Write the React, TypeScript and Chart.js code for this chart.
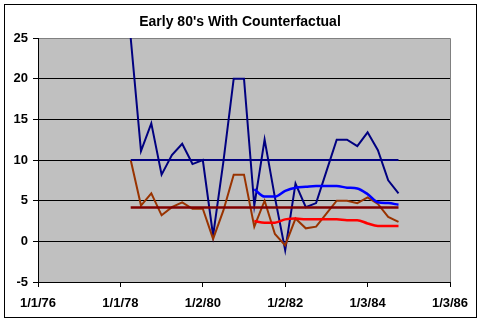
import React, { useEffect, useRef } from "react";
import { Chart, registerables } from "chart.js";

Chart.register(...registerables);

// Quarterly observation dates (m/d/yy)
const dates = [
  "4/1/78", "7/1/78", "10/1/78",
  "1/1/79", "4/1/79", "7/1/79", "10/1/79",
  "1/1/80", "4/1/80", "7/1/80", "10/1/80",
  "1/1/81", "4/1/81", "7/1/81", "10/1/81",
  "1/1/82", "4/1/82", "7/1/82", "10/1/82",
  "1/1/83", "4/1/83", "7/1/83", "10/1/83",
  "1/1/84", "4/1/84", "7/1/84", "10/1/84",
];

const navySeries = [
  25, 11.1, 14.5, 8.2, 10.6, 12.0, 9.5, 10.0, 0.7, 9.8, 20.0, 20.0, 4.4, 12.5,
  5.4, -1.1, 7.1, 4.2, 4.7, 8.6, 12.5, 12.5, 11.7, 13.4, 11.2, 7.5, 5.9,
];
const brownSeries = [
  10.0, 4.4, 5.9, 3.2, 4.2, 4.8, 4.0, 4.0, 0.3, 3.8, 8.2, 8.2, 1.8, 5.0, 0.9,
  -0.5, 2.8, 1.6, 1.8, 3.4, 5.0, 5.0, 4.7, 5.4, 4.6, 3.0, 2.4,
];
// counterfactual series start at 4/1/81
const blueSeries = [6.4, 5.5, 5.5, 6.2, 6.6, 6.7, 6.8, 6.8, 6.8, 6.6, 6.5, 5.8, 4.8, 4.7, 4.5];
const redSeries = [2.5, 2.3, 2.3, 2.7, 2.8, 2.7, 2.7, 2.7, 2.7, 2.6, 2.6, 2.2, 1.9, 1.9, 1.9];
const navyAverage = 10.0;
const brownAverage = 4.15;

const xTickLabels = ["1/1/76", "1/1/78", "1/2/80", "1/2/82", "1/3/84", "1/3/86"];
const yTicks = [-5, 0, 5, 10, 15, 20, 25];

const toYear = (d: string) => {
  const [m, , y] = d.split("/").map(Number);
  return 1900 + y + (m - 1) / 12;
};
const xs = dates.map(toYear);
const cfStart = dates.length - blueSeries.length;

const FONT = "'Liberation Sans', Arial, sans-serif";

export default function App() {
  const ref = useRef<HTMLCanvasElement | null>(null);
  useEffect(() => {
    document.body.style.margin = "0";
    const canvas = ref.current!;
    const framePlugin = {
      id: "frame",
      beforeDraw(chart: any) {
        const { ctx, chartArea: a } = chart;
        ctx.save();
        ctx.fillStyle = "#ffffff";
        ctx.fillRect(0, 0, chart.width, chart.height);
        ctx.strokeStyle = "#000";
        ctx.lineWidth = 1;
        ctx.strokeRect(4.5, 4.5, 472, 313);
        ctx.fillStyle = "#C0C0C0";
        ctx.fillRect(a.left, a.top, a.right - a.left, a.bottom - a.top);
        ctx.strokeStyle = "#808080";
        ctx.beginPath();
        ctx.moveTo(a.left, a.top + 0.5);
        ctx.lineTo(a.right + 0.5, a.top + 0.5);
        ctx.lineTo(a.right + 0.5, a.bottom);
        ctx.stroke();
        ctx.fillStyle = "#000";
        ctx.font = `bold 14px ${FONT}`;
        ctx.textAlign = "center";
        ctx.textBaseline = "middle";
        ctx.fillText("Early 80's With Counterfactual", 240, 22);
        ctx.restore();
      },
    };
    const pts = (vals: number[], offset = 0) =>
      vals.map((v, i) => ({ x: xs[i + offset], y: v }));
    const flat = (v: number) => [
      { x: xs[0], y: v },
      { x: xs[xs.length - 1], y: v },
    ];
    const chart = new Chart(canvas, {
      type: "line",
      data: {
        datasets: [
          { data: pts(navySeries), borderColor: "#000080", borderWidth: 2, order: 6 },
          { data: pts(brownSeries), borderColor: "#993300", borderWidth: 2, order: 5 },
          { data: flat(navyAverage), borderColor: "#000080", borderWidth: 2, order: 4 },
          { data: flat(brownAverage), borderColor: "#800000", borderWidth: 2.5, order: 3 },
          {
            data: pts(blueSeries, cfStart),
            borderColor: "#0000FF",
            borderWidth: 2.5,
            cubicInterpolationMode: "monotone",
            order: 2,
          },
          {
            data: pts(redSeries, cfStart),
            borderColor: "#FF0000",
            borderWidth: 2.5,
            cubicInterpolationMode: "monotone",
            order: 1,
          },
        ] as any,
      },
      options: {
        animation: false,
        responsive: false,
        events: [],
        elements: { point: { radius: 0 }, line: { tension: 0, borderCapStyle: "butt" } },
        layout: { padding: { top: 38, right: 31, left: 0, bottom: 0 } },
        plugins: { legend: { display: false }, title: { display: false }, tooltip: { enabled: false } },
        scales: {
          x: {
            type: "linear",
            min: 1976,
            max: 1986,
            afterFit: (s: any) => {
              s.height = 41;
            },
            afterBuildTicks: (s: any) => {
              s.ticks = xTickLabels.map((_, i) => ({ value: 1976 + 2 * i }));
            },
            grid: {
              drawOnChartArea: false,
              drawTicks: true,
              tickLength: 5,
              color: "#000",
              tickColor: "#000",
            },
            border: { display: true, color: "#000", width: 1 },
            ticks: {
              autoSkip: false,
              maxRotation: 0,
              padding: 9,
              color: "#000",
              font: { family: FONT, size: 13, weight: "bold" },
              callback: (_v: any, i: number) => xTickLabels[i],
            },
          },
          y: {
            type: "linear",
            min: -5,
            max: 25,
            afterFit: (s: any) => {
              s.width = 38;
            },
            afterBuildTicks: (s: any) => {
              s.ticks = yTicks.map((v) => ({ value: v }));
            },
            grid: {
              color: (c: any) => (c.tick && c.tick.value === 25 ? "#808080" : "#000"),
              tickColor: "#000",
              tickLength: 5,
              lineWidth: 1,
            },
            border: { display: true, color: "#000", width: 1 },
            ticks: {
              padding: 5,
              color: "#000",
              font: { family: FONT, size: 13, weight: "bold" },
            },
          },
        },
      } as any,
      plugins: [framePlugin],
    });
    return () => chart.destroy();
  }, []);
  return (
    <div style={{ width: 481, height: 323 }}>
      <canvas ref={ref} width={481} height={323} />
    </div>
  );
}
